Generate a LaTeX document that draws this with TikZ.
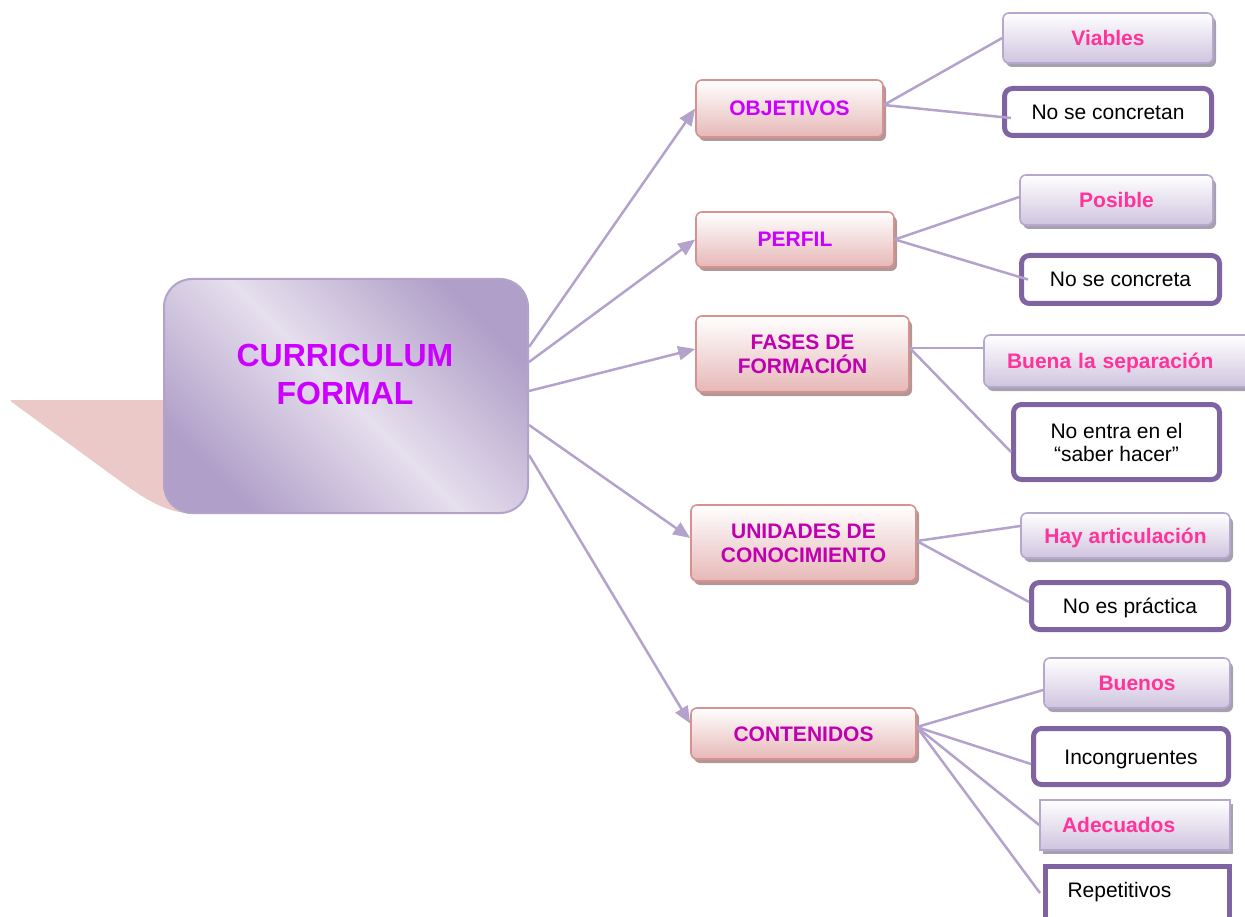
\documentclass[tikz,border=0pt]{standalone}
\usepackage{fontspec}
\setmainfont{Liberation Sans}
\usetikzlibrary{arrows.meta,shadows}

\definecolor{linec}{HTML}{B3A3CC}
\definecolor{taild}{HTML}{EBC9C9}
\definecolor{mainlight}{HTML}{E6DFED}
\definecolor{maindark}{HTML}{B09FC8}
\definecolor{oneborder}{HTML}{D6928F}
\definecolor{onebottom}{HTML}{E6B8B7}
\definecolor{oneshadow}{HTML}{B39797}
\definecolor{lavborder}{HTML}{B6A7CF}
\definecolor{lavbottom}{HTML}{CFC4DF}
\definecolor{lavshadow}{HTML}{A7A0AF}
\definecolor{heavyc}{HTML}{8064A2}
\definecolor{violett}{HTML}{CC00FF}
\definecolor{magentat}{HTML}{C000B0}
\definecolor{pinkt}{HTML}{FF3399}

\newcommand\boxbf{\fontsize{21}{24}\selectfont\bfseries}
\newcommand\boxrm{\fontsize{21}{23}\selectfont}
\newcommand\titlebf{\fontsize{32}{38}\selectfont\bfseries}

\tikzset{
  conn/.style={draw=linec, line width=2.5pt},
  arr/.style={conn, -{Triangle[length=17pt,width=14pt]}},
  levelone/.style={draw=oneborder, line width=1.6pt, rounded corners=6pt,
    top color=white, bottom color=onebottom,
    drop shadow={shadow xshift=3pt, shadow yshift=-4pt, fill=oneshadow, opacity=1},
    inner sep=0pt, font=\boxbf, align=center, text height=15pt, text depth=0pt},
  lavbox/.style={draw=lavborder, line width=1.6pt, rounded corners=6pt,
    top color=white, bottom color=lavbottom,
    drop shadow={shadow xshift=3pt, shadow yshift=-4pt, fill=lavshadow, opacity=1},
    inner sep=0pt, font=\boxbf, text=pinkt, align=center, text height=15pt, text depth=0pt},
  heavybox/.style={draw=heavyc, line width=5pt, rounded corners=8pt, fill=white,
    inner sep=0pt, font=\boxrm, text=black, align=center, text height=15pt, text depth=0pt},
}

\begin{document}
\begin{tikzpicture}[x=1pt, y=-1pt]
\useasboundingbox (0,0) rectangle (1245,917);

% pink tail behind the central box
\fill[taild, rounded corners=3pt] (200,400) -- (9,400) -- (120,481)
  .. controls (145,499) and (165,512) .. (195,514) -- (200,514) -- cycle;

% central box, dark at two opposite corners and light along the other diagonal
\node[draw=linec, line width=2pt, rounded corners=28pt,
      top color=maindark, bottom color=maindark, middle color=mainlight,
      shading angle=-45,
      minimum width=364pt, minimum height=234pt, inner sep=0pt] (cf) at (346,396) {};
\node[font=\titlebf, text=violett, align=center, inner sep=0pt,
      text height=61pt, text depth=0pt] (cftext) at (345,374) {CURRICULUM\\FORMAL};

% first level
\node[levelone, text=violett, minimum width=187pt, minimum height=57pt] (ob) at (789.5,108.5) {OBJETIVOS};
\node[levelone, text=violett, minimum width=198pt, minimum height=55pt] (pe) at (795,239.5) {PERFIL};
\node[levelone, text=magentat, minimum width=213pt, minimum height=76pt, text height=39pt] (fa) at (802.5,354) {FASES DE\\FORMACIÓN};
\node[levelone, text=magentat, minimum width=225pt, minimum height=76pt, text height=39pt] (un) at (803.5,543) {UNIDADES DE\\CONOCIMIENTO};
\node[levelone, text=magentat, minimum width=225pt, minimum height=51pt] (co) at (803.5,733.5) {CONTENIDOS};

% arrows from the central box
\draw[arr] ([yshift=49pt]cf.east) -- (ob.west);
\draw[arr] ([yshift=34pt]cf.east) -- (pe.west);
\draw[arr] ([yshift=5pt]cf.east) -- ([yshift=5pt]fa.west);
\draw[arr] ([yshift=-29pt]cf.east) -- ([yshift=5pt]un.west);
\draw[arr] ([yshift=-59pt]cf.east) -- ([yshift=10pt]co.west);

% second level
\node[lavbox, minimum width=210pt, minimum height=50pt] (vi) at (1108,38) {Viables};
\node[heavybox, minimum width=207pt, minimum height=47pt] (nc) at (1108,112) {No se concretan};

\node[lavbox, minimum width=193pt, minimum height=50pt] (po) at (1116.5,200) {Posible};
\node[heavybox, minimum width=198pt, minimum height=48pt] (ncc) at (1120.5,279.5) {No se concreta};

\node[lavbox, minimum width=281pt, minimum height=52pt, align=left,
      inner xsep=23pt, text width=235pt] (bu) at (1124.5,361) {Buena la separación};
\node[heavybox, minimum width=206pt, minimum height=75pt, text height=38pt] (ne) at (1116.5,442) {No entra en el\\“saber hacer”};

\node[lavbox, minimum width=209pt, minimum height=45pt] (ha) at (1125.5,535.5) {Hay articulación};
\node[heavybox, minimum width=197pt, minimum height=47pt] (np) at (1130,606) {No es práctica};

\node[lavbox, minimum width=186pt, minimum height=50pt] (bn) at (1137,683) {Buenos};
\node[heavybox, minimum width=195pt, minimum height=56pt] (ic) at (1131,756.5) {Incongruentes};
\node[lavbox, rounded corners=0pt, minimum width=190pt, minimum height=50pt, align=left,
      inner xsep=22pt, text width=146pt] (ad) at (1135,825) {Adecuados};
\node[heavybox, rounded corners=0pt, minimum width=184pt, minimum height=71pt, align=left,
      inner xsep=22pt, text width=140pt, text depth=24pt] (re) at (1137.5,902) {Repetitivos};

% connectors to the second level
\draw[conn] ([yshift=3.5pt]ob.east) -- (vi.west);
\draw[conn] ([yshift=3.5pt]ob.east) -- ([xshift=9pt,yshift=-6pt]nc.west);
\draw[conn] (pe.east) -- ([yshift=3pt]po.west);
\draw[conn] (pe.east) -- ([xshift=9pt]ncc.west);
\draw[conn] ([yshift=6pt]fa.east) -- ([yshift=13pt]bu.west);
\draw[conn] ([yshift=6pt]fa.east) -- ([yshift=-10pt]ne.west);
\draw[conn] ([yshift=2pt]un.east) -- ([yshift=9.5pt]ha.west);
\draw[conn] ([yshift=2pt]un.east) -- ([yshift=4pt]np.west);
\draw[conn] ([yshift=6.5pt]co.east) -- ([yshift=-7pt]bn.west);
\draw[conn] ([yshift=6.5pt]co.east) -- ([yshift=-7.5pt]ic.west);
\draw[conn] ([yshift=6.5pt]co.east) -- (ad.west);
\draw[conn] ([yshift=6.5pt]co.east) -- ([xshift=-3pt,yshift=9pt]re.west);
\end{tikzpicture}
\end{document}
